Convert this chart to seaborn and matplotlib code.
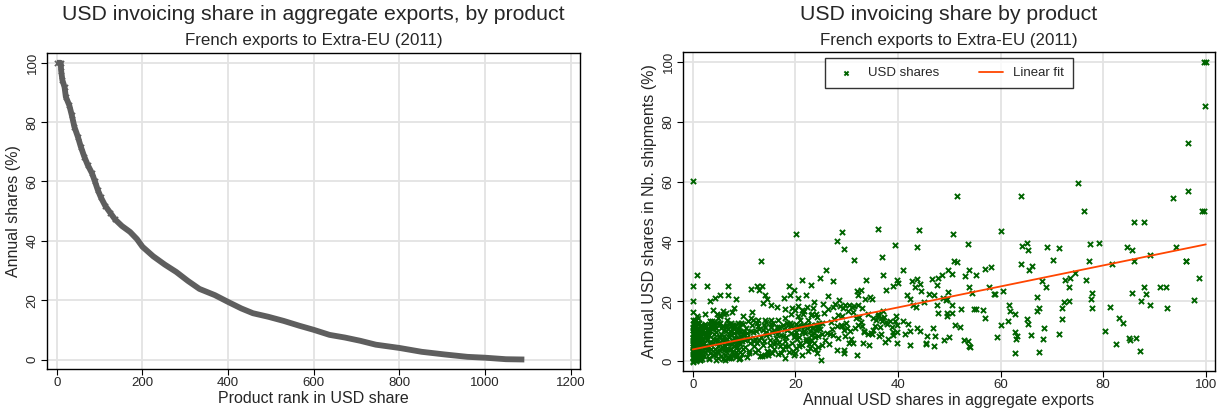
import numpy as np
import pandas as pd
import matplotlib
matplotlib.use('Agg')
import matplotlib.pyplot as plt
import seaborn as sns

# -------------------------
# Data
# -------------------------
# Left panel: products ranked by USD share, annual share (%)
rank = [0, 9, 10, 13, 18, 21, 29, 35, 41, 49, 56, 64, 72, 82, 89, 96, 103, 113,
        125, 136, 152, 171, 187, 200, 225, 252, 279, 306, 333, 369, 400, 431,
        458, 494, 530, 566, 600, 637, 673, 709, 745, 800, 852, 906, 959, 1001,
        1049, 1092]
share = [100, 100, 97.4, 94.1, 91.8, 88.5, 85.7, 82.3, 78.4, 75.1, 71.7, 68.4,
         65.6, 62.8, 60.0, 57.0, 54.6, 51.8, 49.4, 47.2, 45.0, 43.0, 40.6, 38.0,
         34.8, 32.0, 29.5, 26.5, 23.8, 21.7, 19.4, 17.2, 15.6, 14.4, 13.0, 11.4,
         10.0, 8.3, 7.4, 6.3, 5.0, 3.9, 2.6, 1.7, 0.9, 0.6, 0.1, 0.0]

# Right panel: USD share in aggregate exports (x) vs in nb. of shipments (y)
# high / right-hand points
hi_x = [0.0, 100.0, 99.7, 99.9, 96.5, 75.0, 51.6, 64.0, 76.2, 93.7, 96.5, 99.3,
        99.7, 86.1, 87.9, 50.7, 60.0, 53.6, 64.2, 65.1, 65.3, 69.1, 71.3, 77.5,
        79.2, 84.7, 85.7, 94.2, 96.1, 96.2, 50.9, 51.5, 70.2, 77.3, 81.8, 86.1,
        89.1, 63.9, 66.2, 65.5, 49.8, 50.5, 53.9, 56.9, 58.1, 55.3, 53.1, 48.6,
        74.5, 73.5, 72.6, 76.7, 68.1, 68.8, 73.3, 98.6, 49.8, 53.9, 54.4, 57.7,
        58.8, 59.0, 60.5, 85.6, 87.9, 88.4, 91.0, 92.2, 77.8, 77.6, 67.2, 48.8,
        49.4, 49.6, 87.4, 89.1, 97.7, 92.4, 72.3, 73.4, 72.0, 81.3, 77.8, 50.5,
        52.3, 54.9, 55.3, 56.6, 61.6, 61.9, 62.8, 67.5, 67.1, 49.5, 50.5, 49.5,
        56.9, 65.2, 65.3, 61.5, 71.9, 83.1, 83.9, 51.2, 52.0, 60.0, 68.4, 80.3,
        62.8, 63.3, 63.1, 66.0, 68.3, 71.3, 59.3, 49.0, 50.0, 52.9, 53.7, 53.8,
        54.0, 82.5, 85.1, 85.3, 86.4, 87.2, 62.8, 67.4,
        20.1, 29.0, 28.1, 29.5, 36.1, 44.1, 43.8, 39.4, 13.4, 31.4, 36.9]
hi_y = [60.1, 100.0, 100.0, 85.1, 72.8, 59.4, 55.1, 55.2, 50.0, 54.6, 56.8, 50.0,
        50.0, 46.4, 46.4, 42.5, 43.6, 39.2, 38.4, 39.6, 37.1, 38.1, 37.9, 39.0,
        39.6, 38.3, 37.3, 38.1, 33.4, 33.4, 33.3, 33.2, 33.7, 33.4, 32.4, 33.4,
        35.4, 32.4, 31.7, 30.4, 30.6, 29.2, 30.4, 30.7, 31.3, 28.7, 28.4, 28.7,
        29.5, 27.9, 27.0, 27.0, 26.8, 24.9, 24.9, 27.7, 23.2, 24.9, 22.6, 24.9,
        22.4, 22.4, 23.6, 22.7, 24.9, 22.4, 24.9, 24.9, 22.6, 20.7, 21.4, 21.1,
        20.3, 20.9, 20.0, 18.7, 20.3, 17.8, 19.7, 20.2, 17.8, 18.1, 17.8, 18.7,
        17.4, 17.3, 17.3, 17.1, 18.6, 16.9, 15.6, 17.7, 16.7, 16.0, 16.0, 15.1,
        14.5, 14.2, 12.4, 13.4, 14.0, 14.3, 12.9, 12.2, 11.3, 12.2, 11.1, 10.0,
        9.8, 8.3, 7.3, 8.8, 7.5, 9.0, 7.9, 7.2, 8.1, 7.2, 6.6, 5.0,
        4.7, 5.6, 7.7, 7.1, 7.7, 3.5, 2.7, 3.1,
        42.4, 43.0, 40.1, 37.5, 44.0, 43.8, 38.1, 38.7, 33.4, 33.9, 34.8]

# middle band, x between 23 and 48
mid_x = [26.0, 24.9, 27.3, 26.3, 23.7, 28.6, 27.7, 27.3, 28.8, 29.2, 29.7, 30.5,
         31.0, 31.5, 32.2, 32.0, 32.8, 33.7, 33.6, 34.6, 34.9, 32.2, 37.7, 37.1,
         39.1, 39.9, 40.0, 41.0, 41.7, 42.7, 43.8, 44.3, 43.4, 44.5, 46.0, 45.1,
         43.6, 42.9, 42.4, 46.6, 47.8, 47.6, 47.1, 47.6, 47.9, 46.8, 47.2, 45.4,
         47.1, 23.1, 24.0, 24.5, 24.2, 23.7, 25.2, 26.1, 26.8, 27.4, 25.8, 26.5,
         24.5, 25.2, 23.1, 24.3, 25.0, 28.1, 29.1, 29.4, 30.0, 30.7, 29.6, 28.4,
         29.4, 30.4, 31.3, 31.7, 32.3, 32.5, 33.0, 33.3, 34.9, 34.1, 33.2, 34.3,
         32.1, 29.5, 28.1, 35.2, 35.7, 36.2, 36.7, 37.2, 36.9, 37.8, 36.5, 36.3,
         37.5, 38.0, 39.1, 39.9, 39.9, 39.4, 39.9, 40.9, 41.9, 41.3, 42.4, 42.3,
         43.7, 44.3, 45.6, 45.5]
mid_y = [30.6, 27.8, 26.9, 21.9, 19.7, 20.3, 19.1, 18.0, 18.3, 17.8, 18.6, 18.9,
         18.1, 18.3, 18.7, 23.4, 23.7, 27.0, 20.9, 21.5, 20.8, 22.2, 23.9, 28.7,
         25.0, 27.0, 26.2, 30.6, 22.2, 26.7, 27.3, 25.8, 24.7, 23.4, 22.5, 19.8,
         18.0, 18.7, 20.9, 27.3, 27.8, 25.6, 22.2, 18.9, 16.1, 11.1, 8.3, 5.7,
         5.1, 15.3, 15.8, 12.2, 11.1, 9.4, 8.9, 9.4, 8.9, 8.6, 6.9, 5.8,
         4.7, 5.3, 6.9, 2.7, 0.5, 11.6, 11.9, 10.5, 11.1, 10.0, 8.3, 7.8,
         3.8, 6.1, 6.1, 11.1, 12.2, 14.8, 11.6, 10.0, 9.1, 9.1, 6.1, 5.3,
         2.2, 2.7, 3.8, 14.4, 13.7, 15.0, 14.4, 14.7, 13.5, 12.5, 11.4, 8.3,
         6.4, 7.5, 9.8, 9.8, 6.1, 13.3, 12.2, 13.3, 12.4, 9.1, 10.2, 5.5,
         11.1, 10.0, 8.3, 5.9]

# extra points in the band x 20-40, y 7-20
band_x = [20.5, 21.7, 22.9, 24.2, 25.6, 26.9, 28.3, 29.8, 31.2, 32.7, 34.1, 35.6,
          37.0, 38.4, 39.6, 21.2, 23.5, 25.1, 27.6, 30.3, 33.4, 36.2, 38.9, 22.3,
          24.8, 26.4, 28.9, 31.8, 34.8, 37.6, 20.9, 23.9, 27.2, 30.9, 35.1, 39.0,
          25.4, 29.1, 32.9, 36.6]
band_y = [15.2, 16.9, 11.7, 14.6, 16.1, 13.2, 15.5, 12.8, 16.5, 13.0, 15.9, 11.9,
          16.8, 13.4, 15.0, 9.8, 17.6, 12.6, 14.0, 16.8, 9.6, 15.6, 11.4, 18.2,
          10.9, 17.3, 12.1, 14.3, 9.3, 13.1, 13.9, 8.2, 10.7, 7.3, 10.4, 8.6,
          19.0, 15.2, 17.6, 8.9]

# upper part of the dense cluster, x below 23
low_up_x = [0.9, 0.1, 2.7, 6.9, 11.4, 12.5, 13.5, 5.3, 6.9, 8.5, 4.3, 3.4, 0.1,
            14.1, 14.5, 12.9, 18.8, 19.7, 18.9, 17.8, 20.5, 21.3, 22.1, 23.1,
            15.3, 13.6, 16.5, 17.9, 19.4, 20.5, 21.2, 8.1, 7.7, 5.8, 6.1, 4.7,
            3.9, 2.4, 1.1, 0.5, 11.5, 11.3, 9.8, 12.8, 14.0, 15.3, 16.6, 17.9,
            19.1, 19.9, 21.5, 22.5, 23.2, 23.0]
low_up_y = [28.7, 25.0, 25.0, 25.0, 24.1, 25.0, 25.0, 22.2, 22.2, 20.8, 21.0,
            20.0, 20.0, 22.2, 20.8, 23.7, 25.0, 23.9, 22.2, 21.0, 21.0, 27.2,
            22.2, 25.6, 18.9, 19.4, 18.0, 17.4, 17.8, 18.3, 17.1, 17.8, 16.3,
            16.7, 15.8, 15.6, 17.2, 15.6, 14.4, 13.9, 16.3, 14.4, 15.0, 13.6,
            13.6, 13.6, 13.6, 14.4, 15.6, 17.2, 15.6, 13.9, 15.6, 12.2]

# dense cluster near the origin, x below 3
dense_a_x = [0.0, 0.1, 0.3, 0.0, 0.2, 0.5, 0.1, 0.4, 0.0, 0.2, 0.6, 0.3, 0.1,
             0.0, 0.4, 0.8, 0.2, 0.5, 0.0, 0.1, 0.7, 0.3, 0.9, 0.0, 0.2, 1.1,
             0.4, 0.6, 1.0, 1.3, 0.8, 1.5, 1.2, 0.5, 1.7, 1.4, 0.9, 2.0, 1.6,
             1.1, 2.3, 1.8, 2.5, 1.3, 2.1, 2.8, 2.6, 1.9, 2.4, 2.9, 0.3, 0.7,
             1.0, 1.5, 2.2, 0.1, 0.6, 1.2, 1.8, 2.7,
             0.0, 0.2, 0.4, 0.1, 0.3, 0.0, 0.5, 0.2, 0.7, 0.1, 0.4, 0.0, 0.6,
             0.9, 0.3, 1.2, 0.8, 1.4, 1.0, 1.6, 0.2, 1.9, 1.1, 0.5, 2.2, 1.7,
             0.0, 1.3, 2.4, 0.7, 0.1, 0.9, 1.5, 2.0, 0.4, 1.8, 0.0, 2.3, 1.1,
             0.6, 0.3, 1.6, 2.1, 0.8, 1.4, 0.2, 1.0, 1.9, 2.5, 0.5]
dense_a_y = [0.2, 1.5, 3.1, 4.6, 6.0, 2.4, 7.8, 9.2, 10.5, 12.0, 0.8, 5.3, 11.3,
             2.9, 13.4, 4.1, 8.5, 6.8, -0.4, 16.3, 10.1, 1.1, 2.2, 7.1, 3.6,
             5.7, 11.8, 9.7, 8.0, 3.0, 12.6, 1.2, 6.4, 4.0, 9.9, 0.5, 15.0, 7.2,
             2.7, 10.9, 5.0, 11.5, 8.6, 3.4, 1.8, 6.9, 9.4, 5.6, 12.4, 3.7, 8.9,
             0.0, 2.1, 7.5, 4.4, 5.5, 6.2, 12.9, 0.7, 10.3,
             0.9, 2.0, 1.4, 3.8, 4.9, 5.9, 6.5, 7.2, 8.2, 9.0, 10.0, 11.1, 11.6,
             10.7, 12.3, 9.4, 4.8, 7.9, 2.6, 5.2, 12.9, 3.4, 1.0, 9.3, 6.2, 8.8,
             13.6, 11.0, 2.9, 3.0, 8.0, 5.6, 0.4, 10.5, 0.6, 1.6, 3.3, 8.3, 6.7,
             4.4, 7.0, 12.1, 11.9, 2.2, 4.3, 10.8, 12.5, 9.5, 4.6, 1.7]

# dense cluster, x between 2.5 and 10
dense_b_x = [3.1, 3.5, 4.0, 4.4, 3.8, 5.1, 5.6, 4.7, 6.0, 6.4, 5.3, 6.9, 7.3,
             7.8, 6.6, 8.2, 8.7, 7.5, 9.1, 9.6, 3.3, 4.2, 5.0, 5.8, 6.2, 7.0,
             7.9, 8.5, 9.3, 9.8, 3.6, 4.5, 5.4, 6.8, 7.6, 8.8, 9.4, 4.9, 6.1,
             7.2, 8.0, 9.0, 3.9, 5.7, 7.7, 3.2, 4.6, 6.5, 8.4, 9.7, 5.2, 6.7,
             8.1, 4.1, 7.4, 9.2, 3.4, 5.9, 8.9, 6.3,
             2.6, 3.0, 3.3, 3.7, 4.1, 4.5, 4.8, 5.2, 5.5, 5.9, 6.3, 6.6, 7.0,
             7.4, 7.7, 8.1, 8.4, 8.8, 9.2, 9.5, 9.9, 2.8, 3.4, 4.0, 4.6, 5.3,
             5.8, 6.4, 7.1, 7.6, 8.3, 8.9, 9.4, 3.1, 3.9, 4.7, 5.5, 6.2, 7.0,
             7.8, 8.6, 9.3, 2.7, 3.6, 4.4, 5.1, 6.0, 6.8, 7.5, 8.2, 9.0, 9.8,
             3.2, 4.3, 5.4, 6.5, 7.2, 8.0, 8.7, 9.6, 2.9, 3.8, 5.0, 6.1, 7.3,
             8.5, 9.1, 4.9, 6.7, 8.0]
dense_b_y = [1.0, 4.2, 7.5, 2.6, 10.8, 5.9, 1.8, 12.7, 8.3, 3.4, 15.2, 6.1,
             10.2, 2.3, 12.1, 7.8, 4.6, 0.9, 11.4, 6.7, 13.5, 9.1, 3.0, 11.8,
             5.2, 8.9, 12.2, 2.1, 9.6, 4.0, 6.5, 0.4, 8.0, 1.5, 5.6, 10.7, 12.9,
             5.0, 10.4, 3.9, 9.5, 0.8, 2.0, 6.9, 7.1, 8.6, 11.0, 16.1, 3.2, 9.0,
             12.3, 7.3, 11.9, 13.0, 12.6, 2.9, 11.9, 4.4, 6.0, 0.3,
             11.8, 8.9, 5.8, 13.3, 1.9, 9.8, 6.3, 3.6, 11.2, 0.7, 7.0, 4.0, 12.4,
             8.7, 3.1, 10.9, 5.5, 12.6, 1.2, 7.9, 10.1, 4.6, 2.8, 11.0, 7.4,
             15.4, 4.5, 9.9, 1.1, 12.2, 6.6, 3.7, 8.3, 10.3, 6.0, 3.2, 9.2, 2.0,
             8.1, 11.5, 9.6, 5.8, 7.5, 13.0, 12.0, 8.0, 5.5, 10.6, 4.1, 11.8,
             6.4, 12.5, 0.6, 3.9, 12.8, 11.7, 1.8, 4.9, 7.7, 2.3, 9.7, 11.6, 0.9,
             3.6, 6.2, 1.4, 9.9, 14.4, 13.9, 6.8]

# dense cluster, x between 10 and 25
dense_c_x = [10.2, 10.6, 11.0, 11.5, 11.9, 12.4, 12.8, 13.3, 13.7, 14.1, 14.6,
             15.0, 15.5, 15.9, 16.4, 16.8, 17.3, 17.7, 18.2, 18.6, 19.1, 19.5,
             20.0, 20.4, 20.9, 21.3, 21.8, 22.2, 22.7, 10.4, 11.2, 12.1, 13.0,
             13.9, 14.8, 15.7, 16.6, 17.5, 18.4, 19.3, 20.2, 21.1, 22.0, 22.9,
             10.8, 12.6, 14.4, 16.2, 18.0, 19.8, 21.6, 11.7, 13.5, 15.3, 17.1,
             18.9, 20.7, 22.5, 10.1, 14.2,
             10.3, 10.9, 11.4, 12.0, 12.5, 13.1, 13.6, 14.2, 14.7, 15.3, 15.8,
             16.4, 16.9, 17.5, 18.0, 18.6, 19.1, 19.7, 20.2, 20.8, 21.3, 21.9,
             22.4, 23.0, 23.6, 24.1, 24.7, 10.6, 11.8, 13.0, 14.3, 15.5, 16.7,
             17.9, 19.2, 20.4, 21.6, 22.8, 24.0, 11.1, 12.7, 14.0, 15.9, 17.2,
             18.7, 20.1, 21.5, 23.3, 24.5, 10.0, 12.2, 13.8, 16.0, 18.3, 19.9,
             22.1, 23.8, 15.1, 17.6, 20.6]
dense_c_y = [4.8, 9.3, 2.7, 12.2, 6.6, 10.0, 3.8, 8.1, 5.5, 11.5, 1.9, 7.2, 9.8,
             4.1, 11.5, 6.3, 2.8, 10.6, 7.9, 5.0, 12.0, 3.3, 8.8, 11.1, 6.0,
             2.2, 9.5, 12.1, 5.7, 11.0, 7.7, 3.1, 10.9, 6.8, 9.0, 12.8, 2.5,
             8.4, 10.4, 6.1, 4.4, 11.6, 7.4, 9.9, 13.4, 5.9, 3.5, 7.6, 1.1, 8.2,
             10.0, 9.8, 1.8, 11.3, 4.9, 12.9, 5.0, 7.2, 6.9, 13.2,
             7.6, 3.5, 9.9, 5.2, 12.9, 1.6, 10.4, 8.6, 3.0, 12.4, 5.6, 9.1, 11.4,
             3.9, 6.8, 12.0, 9.3, 1.9, 12.3, 7.9, 5.3, 11.9, 3.4, 8.8, 6.2,
             10.5, 12.7, 1.5, 13.8, 7.0, 9.7, 2.6, 10.9, 5.0, 11.7, 7.5, 10.2,
             4.5, 12.0, 5.9, 11.7, 2.2, 10.2, 8.6, 3.0, 9.6, 12.1, 11.0, 8.4,
             8.9, 7.4, 12.2, 6.4, 12.9, 2.6, 6.6, 4.2, 5.3, 12.2, 11.8]

# linear fit end points
fit_x = [0, 100]
fit_y = [3.9, 39.0]

# -------------------------
# Frames
# -------------------------
df_rank = pd.DataFrame({'rank': rank, 'share': share})
df_sc = pd.DataFrame({
    'agg': hi_x + mid_x + band_x + low_up_x + dense_a_x + dense_b_x + dense_c_x,
    'nb': hi_y + mid_y + band_y + low_up_y + dense_a_y + dense_b_y + dense_c_y,
})
df_fit = pd.DataFrame({'agg': fit_x, 'nb': fit_y})

# -------------------------
# Plot
# -------------------------
sns.set_style('whitegrid')
plt.rcParams['font.family'] = ['Liberation Sans', 'DejaVu Sans']

fig = plt.figure(figsize=(12.25, 4.15), dpi=100)
W, H = 1225, 415
ax1 = fig.add_axes([47 / W, 1 - 369 / H, (580 - 47) / W, (369 - 53) / H])
ax2 = fig.add_axes([683 / W, 1 - 371 / H, (1215 - 683) / W, (371 - 52) / H])

green = '#006400'
orange = '#ff4500'
gray = '#5e5e5e'

sns.lineplot(data=df_rank, x='rank', y='share', ax=ax1, color=gray,
             linewidth=4.2, solid_capstyle='butt')
sns.scatterplot(data=df_rank.iloc[:20], x='rank', y='share', ax=ax1,
                marker='x', color=gray, s=14, linewidth=1.2)
ax1.set_xlim(-23, 1222)
ax1.set_ylim(-3.2, 103.3)
ax1.set_xticks(range(0, 1201, 200))
ax1.set_yticks(range(0, 101, 20))
ax1.set_xlabel('Product rank in USD share', fontsize=11.5, labelpad=1)
ax1.set_ylabel('Annual shares (%)', fontsize=11.5, labelpad=4)

sns.scatterplot(data=df_sc, x='agg', y='nb', ax=ax2, marker='x', color=green,
                s=14, linewidth=1.4, label='USD shares', zorder=3)
sns.lineplot(data=df_fit, x='agg', y='nb', ax=ax2, color=orange, linewidth=1.3,
             label='Linear fit', zorder=4)
ax2.set_xlim(-1.9, 101.8)
ax2.set_ylim(-3.3, 103.3)
ax2.set_xticks(range(0, 101, 20))
ax2.set_yticks(range(0, 101, 20))
ax2.set_xlabel('Annual USD shares in aggregate exports', fontsize=11.5, labelpad=1)
ax2.set_ylabel('Annual USD shares in Nb. shipments (%)', fontsize=11.5, labelpad=4)

leg = ax2.legend(loc='upper center', bbox_to_anchor=(0.5, 0.982), ncol=2,
                 frameon=True, fancybox=False, fontsize=9.5, borderaxespad=0,
                 columnspacing=3.0, handlelength=1.8, borderpad=0.7,
                 markerscale=0.8)
leg.get_frame().set_edgecolor('black')
leg.get_frame().set_linewidth(1.0)

for ax in (ax1, ax2):
    ax.grid(True, color='#e3e3e3', linewidth=1.3)
    for sp in ax.spines.values():
        sp.set_color('black')
        sp.set_linewidth(1.0)
    ax.tick_params(axis='both', which='major', bottom=True, left=True,
                   length=4, width=0.8, color='black', labelsize=9.5, pad=2)
    for t in ax.get_yticklabels():
        t.set_rotation(90)
        t.set_va('center')

fig.text((47 + 580) / 2 / W, 1 - 15 / H,
         'USD invoicing share in aggregate exports, by product',
         ha='center', va='center', fontsize=15.3)
fig.text((47 + 580) / 2 / W, 1 - 40 / H, 'French exports to Extra-EU (2011)',
         ha='center', va='center', fontsize=12.2)
fig.text((683 + 1215) / 2 / W, 1 - 15 / H, 'USD invoicing share by product',
         ha='center', va='center', fontsize=15.3)
fig.text((683 + 1215) / 2 / W, 1 - 40 / H, 'French exports to Extra-EU (2011)',
         ha='center', va='center', fontsize=12.2)

fig.savefig('out.png', dpi=100)
